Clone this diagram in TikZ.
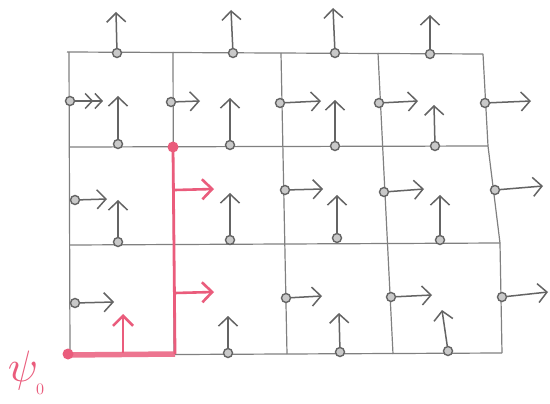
\documentclass[tikz,border=0pt]{standalone}
\usetikzlibrary{arrows.meta}
\definecolor{pencil}{RGB}{128,128,128}
\definecolor{lead}{RGB}{100,100,100}
\definecolor{pinkred}{RGB}{234,92,124}
\begin{document}
\begin{tikzpicture}[x=1pt,y=-1pt,
  gridline/.style={draw=pencil,line width=1.2pt},
  samp/.style={circle,draw=lead,line width=1.4pt,inner sep=0pt,minimum size=9pt,fill=lead!35},
  vel/.style={draw=lead,line width=1.5pt,-{Straight Barb[length=9pt,width=19pt,line width=1.5pt]}},
  veltwo/.style={draw=lead,line width=1.5pt,-{Straight Barb[length=7pt,width=15pt,line width=1.5pt,sep=1pt]Straight Barb[length=7pt,width=15pt,line width=1.5pt]}},
  redvel/.style={draw=pinkred,line width=2.6pt,-{Straight Barb[length=10pt,width=20pt,line width=2.6pt]}},
  reddot/.style={circle,fill=pinkred,inner sep=0pt,minimum size=11pt},
  redline/.style={draw=pinkred,line width=2.8pt},
  lbl/.style={text=pinkred,inner sep=0pt}
]
\useasboundingbox (0,0) rectangle (550,404);
\fill[white] (0,0) rectangle (550,404);

% grid lines
\draw[gridline] (67,52) -- (483,54);
\draw[gridline] (70,147) -- (488,146);
\draw[gridline] (70,245) -- (500,243);
\draw[gridline] (70,355) -- (502,353);
\draw[gridline] (69,52) -- (70,355);
\draw[gridline] (173,52) -- (174,355);
\draw[gridline] (281,53) -- (287,354);
\draw[gridline] (378,53) -- (393,354);
\draw[gridline] (483,54) -- (488,146) -- (500,243) -- (502,353);

% red path
\draw[redline,line width=5.5pt,pinkred!85] (68,355) -- (175,354);
\draw[redline] (173,147) -- (175,354);
\node[reddot] (start) at (68,354) {};
\node[reddot] (corner) at (173,147) {};

% horizontal velocity samples (on vertical edges)
\node[samp] (h1) at (70,101) {};
\coordinate (h1e) at (103,101);
\draw[veltwo] (h1) -- (h1e);
\foreach \n/\x/\y/\ex/\ey in {h2/171/102/200/101, h3/280/103/321/101, h4/379/103/418/101, h5/485/103/531/101,
    h6/75/200/107/199, h7/285/190/323/189, h8/384/192/424/189, h9/495/190/543/186,
    h10/75/303/114/302, h11/286/298/322/296, h12/391/297/432/295, h13/502/297/548/292} {
  \node[samp] (\n) at (\x,\y) {};
  \coordinate (\n e) at (\ex,\ey);
  \draw[vel] (\n) -- (\n e);
}

% vertical velocity samples (on horizontal edges)
\foreach \n/\x/\y/\ex/\ey in {v1/117/53/116/12, v2/233/53/231/10, v3/335/53/333/8, v4/430/54/430/15,
    v5/118/144/118/96, v6/230/145/230/98, v7/335/146/335/100, v8/435/146/434/105,
    v9/118/242/118/200, v10/230/240/230/193, v11/337/238/337/195, v12/440/240/440/195,
    v13/228/353/228/316, v14/340/352/339/313, v15/448/351/442/310} {
  \node[samp] (\n) at (\x,\y) {};
  \coordinate (\n e) at (\ex,\ey);
  \draw[vel] (\n) -- (\n e);
}

% red velocity arrows
\coordinate (r1s) at (175,190); \coordinate (r1e) at (214,189);
\draw[redvel] (r1s) -- (r1e);
\coordinate (r2s) at (175,293); \coordinate (r2e) at (214,292);
\draw[redvel] (r2s) -- (r2e);
\coordinate (r3s) at (123,353); \coordinate (r3e) at (123,314);
\draw[redvel] (r3s) -- (r3e);

% label
\node[lbl,scale=4.4] (psi) at (23,370) {$\psi$};
\node[lbl,scale=1.6] (sub) at (40,389) {0};
\end{tikzpicture}
\end{document}
